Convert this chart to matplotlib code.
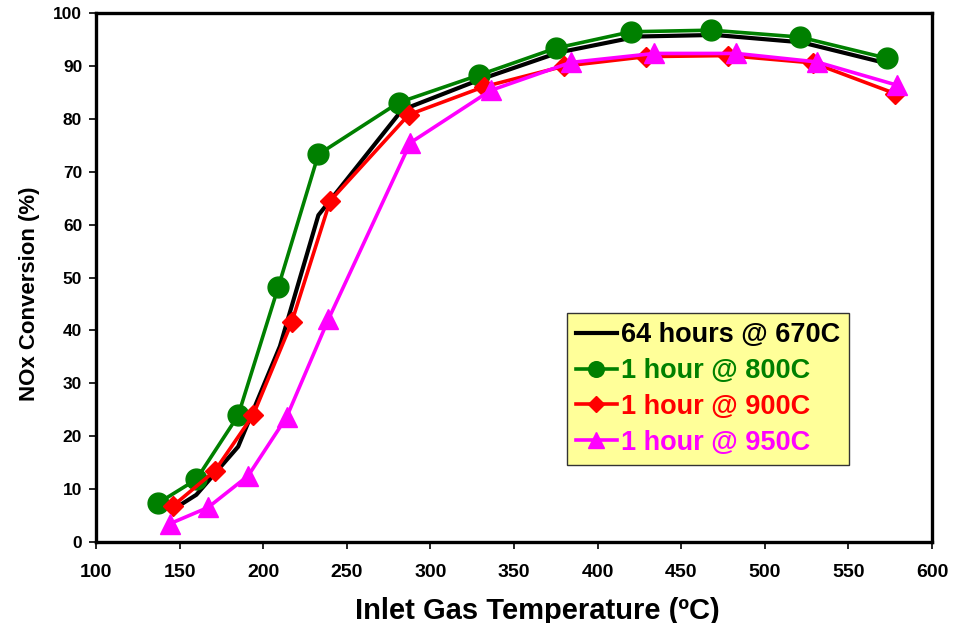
# NOx conversion vs inlet gas temperature, four aging conditions

import matplotlib
matplotlib.use("Agg")
import matplotlib.pyplot as plt

plt.rcParams["font.family"] = ["Liberation Sans", "DejaVu Sans"]
plt.rcParams["font.weight"] = "bold"

# 64 hours @ 670C (line only)
t_670 = [148, 160, 185, 210, 233, 283, 330, 377, 424, 470, 522, 572]
nox_670 = [6.5, 8.9, 18.0, 37.0, 61.8, 81.7, 87.5, 92.6, 95.6, 95.9, 94.5, 90.6]

# 1 hour @ 800C
t_800 = [137, 160, 185, 209, 233, 281, 329, 375, 420, 468, 521, 573]
nox_800 = [7.3, 11.8, 23.9, 48.2, 73.3, 83.1, 88.3, 93.4, 96.5, 96.8, 95.5, 91.5]

# 1 hour @ 900C
t_900 = [146, 171, 194, 217, 240, 287, 332, 380, 429, 478, 529, 578]
nox_900 = [6.8, 13.4, 24.0, 41.5, 64.5, 80.8, 86.1, 90.0, 91.8, 92.0, 90.6, 84.8]

# 1 hour @ 950C
t_950 = [144, 167, 191, 214, 239, 288, 336, 384, 434, 483, 531, 579]
nox_950 = [3.4, 6.5, 12.5, 23.6, 42.1, 75.5, 85.4, 90.7, 92.4, 92.4, 90.8, 86.4]

labels = ["64 hours @ 670C", "1 hour @ 800C", "1 hour @ 900C", "1 hour @ 950C"]
colors = ["black", "#008000", "#FF0000", "#FF00FF"]

fig = plt.figure(figsize=(9.65, 6.23), dpi=100)
ax = fig.add_axes([0.0995, 0.1303, 0.8663, 0.8484])

ax.plot(t_670, nox_670, color=colors[0], lw=3, label=labels[0], zorder=2)
ax.plot(t_800, nox_800, color=colors[1], lw=2.6, marker="o", ms=15,
        label=labels[1], zorder=3)
ax.plot(t_900, nox_900, color=colors[2], lw=2.6, marker="D", ms=10.5,
        label=labels[2], zorder=4)
ax.plot(t_950, nox_950, color=colors[3], lw=2.6, marker="^", ms=15,
        label=labels[3], zorder=5)

ax.set_xlim(100, 600)
ax.set_ylim(0, 100)
ax.set_xticks(range(100, 601, 50))
ax.set_yticks(range(0, 101, 10))
ax.tick_params(width=1.2, length=5, direction="out")
ax.tick_params(axis="x", labelsize=14, pad=11)
ax.tick_params(axis="y", labelsize=12.5, pad=5)
for lab in ax.get_xticklabels() + ax.get_yticklabels():
    lab.set_fontweight("bold")
for s in ax.spines.values():
    s.set_linewidth(2.4)

ax.set_xlabel("Inlet Gas Temperature (ºC)", fontsize=21, fontweight="bold")
ax.xaxis.set_label_coords(0.5275, -0.104)
ax.set_ylabel("NOx Conversion (%)", fontsize=16, fontweight="bold")
ax.yaxis.set_label_coords(-0.067, 0.469)

leg = ax.legend(loc="upper left", bbox_to_anchor=(0.563, 0.433), borderaxespad=0,
                prop={"size": 19.5, "weight": "bold"}, handlelength=1.5,
                handletextpad=0.15, labelspacing=0.36, borderpad=0.35,
                markerscale=0.75, fancybox=False, framealpha=1,
                facecolor="#FFFF99", edgecolor="#333333")
leg.get_frame().set_linewidth(1.0)
for txt, c in zip(leg.get_texts(), colors):
    txt.set_color(c)

fig.savefig("out.png", dpi=100)
